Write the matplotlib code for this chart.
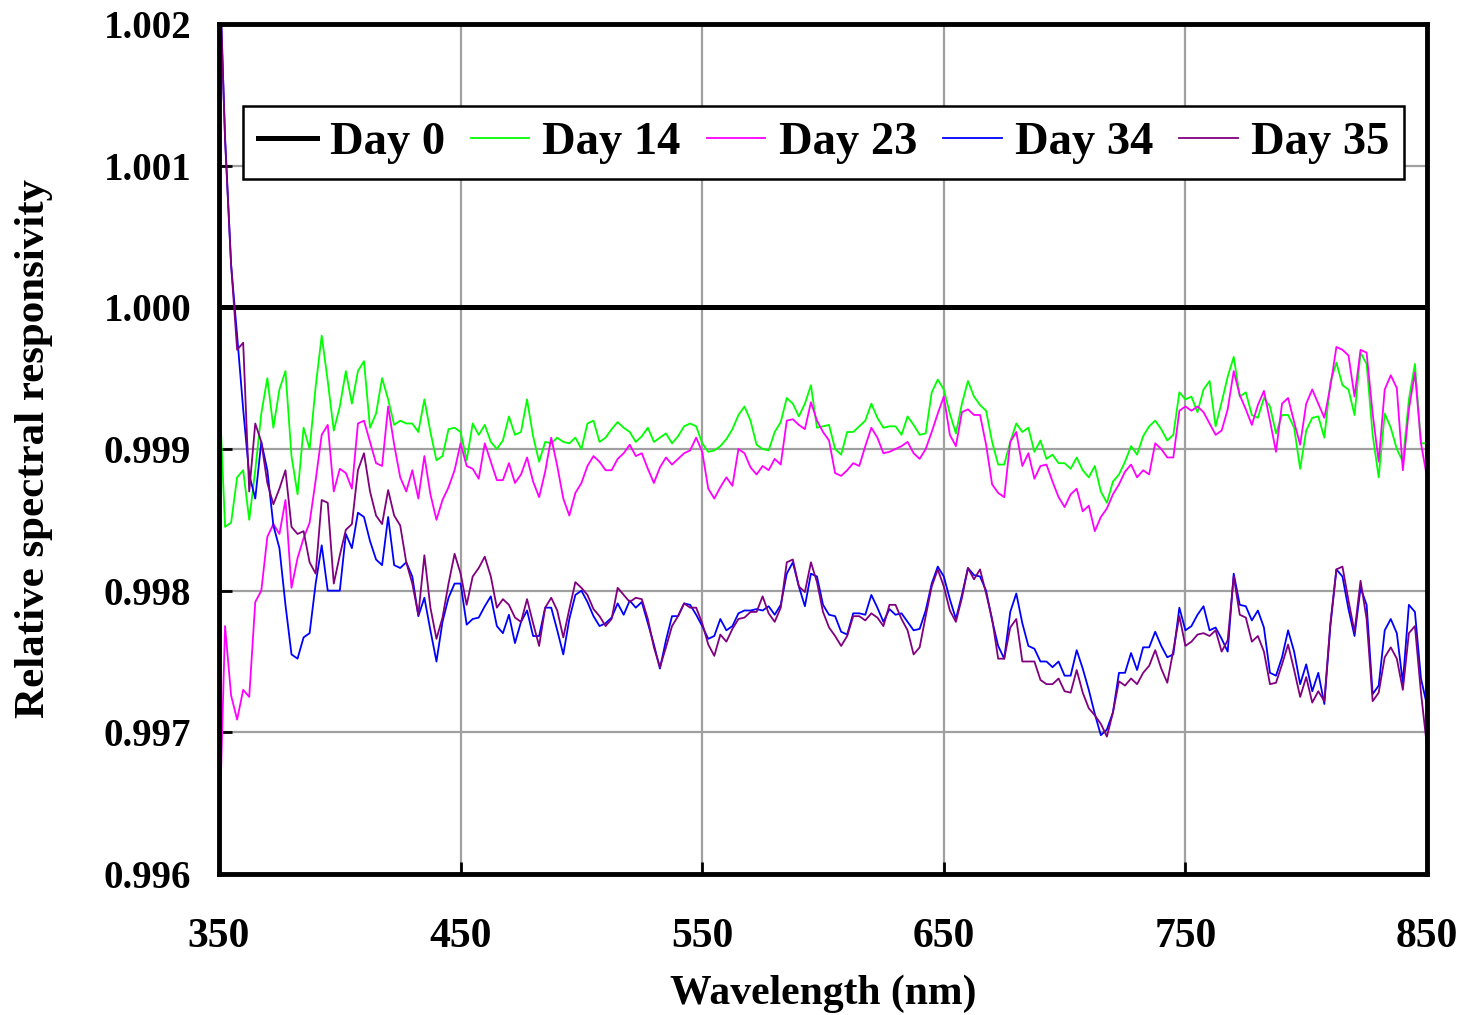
import numpy as np
import matplotlib
matplotlib.use("Agg")
import matplotlib.pyplot as plt

plt.rcParams['font.family'] = ['Liberation Serif', 'DejaVu Serif']
plt.rcParams['font.weight'] = 'bold'

# wavelength grid (nm), 2.5 nm steps
wavelength = np.arange(350, 850.01, 2.5)

# relative responsivity (rows of 8 = 20 nm)
day0 = np.ones_like(wavelength)

day14 = [
    0.99945, 0.99845, 0.99848, 0.99880, 0.99885, 0.99850, 0.99885, 0.99925,
    0.99950, 0.99915, 0.99942, 0.99955, 0.99895, 0.99868, 0.99915, 0.99900,
    0.99944, 0.99980, 0.99948, 0.99913, 0.99930, 0.99955, 0.99932, 0.99955,
    0.99962, 0.99915, 0.99925, 0.99950, 0.99935, 0.99917, 0.99920, 0.99918,
    0.99918, 0.99912, 0.99935, 0.99912, 0.99892, 0.99895, 0.99914, 0.99915,
    0.99912, 0.99892, 0.99918, 0.99910, 0.99917, 0.99905, 0.99900, 0.99906,
    0.99923, 0.99910, 0.99912, 0.99935, 0.99909, 0.99891, 0.99905, 0.99904,
    0.99908, 0.99905, 0.99904, 0.99908, 0.99900, 0.99918, 0.99920, 0.99905,
    0.99908, 0.99914, 0.99919, 0.99915, 0.99912, 0.99905, 0.99909, 0.99915,
    0.99905, 0.99908, 0.99911, 0.99904, 0.99909, 0.99916, 0.99918, 0.99916,
    0.99904, 0.99898, 0.99899, 0.99902, 0.99907, 0.99914, 0.99924, 0.99930,
    0.99920, 0.99903, 0.99900, 0.99899, 0.99912, 0.99919, 0.99936, 0.99932,
    0.99923, 0.99932, 0.99945, 0.99915, 0.99916, 0.99917, 0.99900, 0.99896,
    0.99912, 0.99912, 0.99916, 0.99920, 0.99932, 0.99922, 0.99915, 0.99916,
    0.99916, 0.99910, 0.99923, 0.99917, 0.99910, 0.99911, 0.99940, 0.99949,
    0.99942, 0.99925, 0.99911, 0.99932, 0.99948, 0.99937, 0.99931, 0.99927,
    0.99905, 0.99889, 0.99889, 0.99905, 0.99918, 0.99912, 0.99915, 0.99898,
    0.99906, 0.99893, 0.99896, 0.99890, 0.99890, 0.99886, 0.99894, 0.99885,
    0.99880, 0.99888, 0.99870, 0.99862, 0.99877, 0.99882, 0.99891, 0.99902,
    0.99896, 0.99909, 0.99916, 0.99920, 0.99914, 0.99906, 0.99910, 0.99940,
    0.99935, 0.99937, 0.99926, 0.99942, 0.99948, 0.99916, 0.99933, 0.99951,
    0.99965, 0.99937, 0.99940, 0.99924, 0.99922, 0.99936, 0.99930, 0.99911,
    0.99924, 0.99924, 0.99915, 0.99886, 0.99913, 0.99922, 0.99923, 0.99908,
    0.99947, 0.99961, 0.99945, 0.99942, 0.99924, 0.99968, 0.99960, 0.99910,
    0.99880, 0.99925, 0.99915, 0.99900, 0.99891, 0.99935, 0.99960, 0.99904,
    0.99904,
]

day23 = [
    0.99620, 0.99775, 0.99726, 0.99709, 0.99730, 0.99725, 0.99792, 0.99800,
    0.99838, 0.99847, 0.99840, 0.99864, 0.99802, 0.99823, 0.99837, 0.99848,
    0.99878, 0.99910, 0.99917, 0.99870, 0.99886, 0.99883, 0.99872, 0.99918,
    0.99920, 0.99905, 0.99890, 0.99888, 0.99930, 0.99903, 0.99880, 0.99870,
    0.99885, 0.99865, 0.99895, 0.99868, 0.99850, 0.99864, 0.99873, 0.99885,
    0.99904, 0.99888, 0.99886, 0.99879, 0.99904, 0.99891, 0.99878, 0.99878,
    0.99890, 0.99876, 0.99882, 0.99894, 0.99877, 0.99866, 0.99884, 0.99908,
    0.99888, 0.99865, 0.99853, 0.99869, 0.99876, 0.99888, 0.99895, 0.99891,
    0.99885, 0.99885, 0.99893, 0.99897, 0.99903, 0.99895, 0.99897, 0.99886,
    0.99876, 0.99887, 0.99894, 0.99889, 0.99893, 0.99897, 0.99899, 0.99908,
    0.99898, 0.99872, 0.99865, 0.99873, 0.99880, 0.99874, 0.99900, 0.99897,
    0.99887, 0.99882, 0.99888, 0.99885, 0.99893, 0.99889, 0.99920, 0.99921,
    0.99917, 0.99914, 0.99933, 0.99920, 0.99912, 0.99906, 0.99883, 0.99881,
    0.99885, 0.99890, 0.99888, 0.99902, 0.99915, 0.99908, 0.99897, 0.99898,
    0.99900, 0.99902, 0.99905, 0.99897, 0.99893, 0.99900, 0.99912, 0.99925,
    0.99937, 0.99910, 0.99902, 0.99926, 0.99928, 0.99924, 0.99924, 0.99903,
    0.99875, 0.99869, 0.99866, 0.99905, 0.99912, 0.99888, 0.99897, 0.99879,
    0.99888, 0.99889, 0.99877, 0.99866, 0.99859, 0.99868, 0.99872, 0.99856,
    0.99860, 0.99842, 0.99852, 0.99858, 0.99868, 0.99875, 0.99884, 0.99889,
    0.99880, 0.99885, 0.99882, 0.99904, 0.99900, 0.99894, 0.99894, 0.99927,
    0.99930, 0.99927, 0.99930, 0.99926, 0.99918, 0.99910, 0.99913, 0.99928,
    0.99955, 0.99938, 0.99928, 0.99917, 0.99931, 0.99941, 0.99920, 0.99898,
    0.99932, 0.99936, 0.99919, 0.99903, 0.99932, 0.99942, 0.99932, 0.99922,
    0.99944, 0.99972, 0.99970, 0.99966, 0.99937, 0.99970, 0.99968, 0.99925,
    0.99891, 0.99942, 0.99952, 0.99943, 0.99885, 0.99928, 0.99954, 0.99904,
    0.99880,
]

day34 = [
    1.00250, 1.00120, 1.00030, 0.99980, 0.99928, 0.99882, 0.99865, 0.99905,
    0.99885, 0.99846, 0.99830, 0.99790, 0.99755, 0.99752, 0.99767, 0.99770,
    0.99805, 0.99832, 0.99800, 0.99800, 0.99800, 0.99840, 0.99830, 0.99855,
    0.99852, 0.99835, 0.99822, 0.99818, 0.99852, 0.99818, 0.99816, 0.99820,
    0.99810, 0.99782, 0.99795, 0.99772, 0.99750, 0.99778, 0.99795, 0.99805,
    0.99805, 0.99776, 0.99780, 0.99781, 0.99789, 0.99796, 0.99775, 0.99770,
    0.99783, 0.99763, 0.99778, 0.99786, 0.99768, 0.99768, 0.99788, 0.99788,
    0.99772, 0.99755, 0.99780, 0.99797, 0.99800, 0.99792, 0.99782, 0.99775,
    0.99777, 0.99781, 0.99791, 0.99783, 0.99793, 0.99788, 0.99792, 0.99777,
    0.99762, 0.99745, 0.99765, 0.99782, 0.99782, 0.99791, 0.99790, 0.99783,
    0.99775, 0.99766, 0.99768, 0.99780, 0.99772, 0.99775, 0.99784, 0.99786,
    0.99786, 0.99787, 0.99786, 0.99789, 0.99783, 0.99790, 0.99812, 0.99820,
    0.99803, 0.99789, 0.99812, 0.99810, 0.99790, 0.99783, 0.99782, 0.99771,
    0.99769, 0.99784, 0.99784, 0.99783, 0.99797, 0.99788, 0.99778, 0.99787,
    0.99783, 0.99784, 0.99778, 0.99772, 0.99773, 0.99786, 0.99805, 0.99817,
    0.99810, 0.99794, 0.99780, 0.99797, 0.99816, 0.99811, 0.99810, 0.99800,
    0.99779, 0.99761, 0.99752, 0.99785, 0.99798, 0.99777, 0.99761, 0.99759,
    0.99750, 0.99750, 0.99746, 0.99750, 0.99740, 0.99740, 0.99758, 0.99745,
    0.99730, 0.99713, 0.99698, 0.99702, 0.99714, 0.99742, 0.99742, 0.99756,
    0.99744, 0.99760, 0.99760, 0.99771, 0.99761, 0.99753, 0.99755, 0.99788,
    0.99772, 0.99775, 0.99783, 0.99789, 0.99772, 0.99774, 0.99766, 0.99757,
    0.99812, 0.99790, 0.99789, 0.99779, 0.99786, 0.99774, 0.99742, 0.99740,
    0.99753, 0.99772, 0.99757, 0.99734, 0.99748, 0.99729, 0.99742, 0.99720,
    0.99775, 0.99815, 0.99810, 0.99787, 0.99768, 0.99802, 0.99790, 0.99727,
    0.99733, 0.99772, 0.99780, 0.99770, 0.99735, 0.99790, 0.99785, 0.99738,
    0.99719,
]

day35 = [
    1.00250, 1.00118, 1.00030, 0.99970, 0.99975, 0.99870, 0.99918, 0.99905,
    0.99876, 0.99861, 0.99872, 0.99885, 0.99845, 0.99840, 0.99842, 0.99820,
    0.99812, 0.99864, 0.99862, 0.99805, 0.99825, 0.99843, 0.99847, 0.99885,
    0.99897, 0.99870, 0.99853, 0.99847, 0.99871, 0.99853, 0.99846, 0.99820,
    0.99805, 0.99783, 0.99825, 0.99788, 0.99766, 0.99781, 0.99805, 0.99826,
    0.99812, 0.99790, 0.99810, 0.99816, 0.99824, 0.99810, 0.99788, 0.99794,
    0.99790, 0.99781, 0.99778, 0.99794, 0.99777, 0.99761, 0.99788, 0.99795,
    0.99786, 0.99767, 0.99787, 0.99806, 0.99802, 0.99797, 0.99787, 0.99782,
    0.99775, 0.99780, 0.99802, 0.99797, 0.99792, 0.99795, 0.99794, 0.99780,
    0.99760, 0.99746, 0.99760, 0.99775, 0.99782, 0.99791, 0.99788, 0.99788,
    0.99777, 0.99762, 0.99754, 0.99769, 0.99764, 0.99773, 0.99780, 0.99781,
    0.99785, 0.99785, 0.99796, 0.99784, 0.99778, 0.99788, 0.99820, 0.99822,
    0.99803, 0.99799, 0.99820, 0.99806, 0.99785, 0.99774, 0.99768, 0.99761,
    0.99768, 0.99782, 0.99782, 0.99779, 0.99784, 0.99781, 0.99775, 0.99790,
    0.99790, 0.99780, 0.99772, 0.99755, 0.99760, 0.99782, 0.99803, 0.99815,
    0.99803, 0.99786, 0.99778, 0.99795, 0.99816, 0.99808, 0.99815, 0.99798,
    0.99780, 0.99752, 0.99752, 0.99774, 0.99780, 0.99750, 0.99750, 0.99750,
    0.99737, 0.99734, 0.99734, 0.99738, 0.99729, 0.99728, 0.99744, 0.99728,
    0.99717, 0.99712, 0.99706, 0.99697, 0.99714, 0.99736, 0.99733, 0.99738,
    0.99734, 0.99742, 0.99747, 0.99758, 0.99745, 0.99735, 0.99758, 0.99782,
    0.99761, 0.99764, 0.99769, 0.99770, 0.99768, 0.99772, 0.99757, 0.99765,
    0.99810, 0.99783, 0.99781, 0.99764, 0.99768, 0.99757, 0.99734, 0.99735,
    0.99748, 0.99762, 0.99744, 0.99725, 0.99739, 0.99721, 0.99729, 0.99722,
    0.99777, 0.99815, 0.99817, 0.99793, 0.99771, 0.99807, 0.99780, 0.99722,
    0.99728, 0.99753, 0.99760, 0.99752, 0.99730, 0.99770, 0.99775, 0.99728,
    0.99690,
]

labels = ['Day 0', 'Day 14', 'Day 23', 'Day 34', 'Day 35']
colors = ['black', '#00ff00', '#ff00ff', '#0000ff', '#800080']
series = [day0, day14, day23, day34, day35]

fig = plt.figure(figsize=(14.66, 10.15), dpi=100)
ax = fig.add_axes([0.1494, 0.1389, 0.824, 0.8375])

for lab, col, vals in zip(labels, colors, series):
    lw = 3.6 if lab == 'Day 0' else 1.3
    ax.plot(wavelength, vals, color=col, lw=lw, label=lab, zorder=3)

ax.set_xlim(350, 850)
ax.set_ylim(0.996, 1.002)
ax.set_xticks(np.arange(350, 851, 100))
ax.set_yticks(np.arange(0.996, 1.0021, 0.001))
ax.yaxis.set_major_formatter(matplotlib.ticker.FormatStrFormatter('%.3f'))
ax.grid(True, color='#a0a0a0', lw=1.6, zorder=0)
ax.tick_params(direction='in', length=9, width=2)
ax.tick_params(axis='x', labelsize=30, pad=32)
ax.tick_params(axis='y', labelsize=28, pad=20)
for sp in ax.spines.values():
    sp.set_linewidth(3.5)
    sp.set_zorder(5)

ax.set_xlabel('Wavelength (nm)', fontsize=30, fontweight='bold', labelpad=13)
ax.set_ylabel('Relative spectral responsivity', fontsize=31, fontweight='bold', labelpad=36)

leg = ax.legend(loc='upper left', bbox_to_anchor=(0.0199, 0.9035), ncol=5,
                fontsize=33.5, frameon=True, fancybox=False, handlelength=1.25,
                columnspacing=0.57, handletextpad=0.28, borderpad=0.33,
                borderaxespad=0)
leg.get_frame().set_edgecolor('black')
leg.get_frame().set_linewidth(1.8)
leg.get_frame().set_alpha(1)

fig.savefig('out.png', dpi=100)
